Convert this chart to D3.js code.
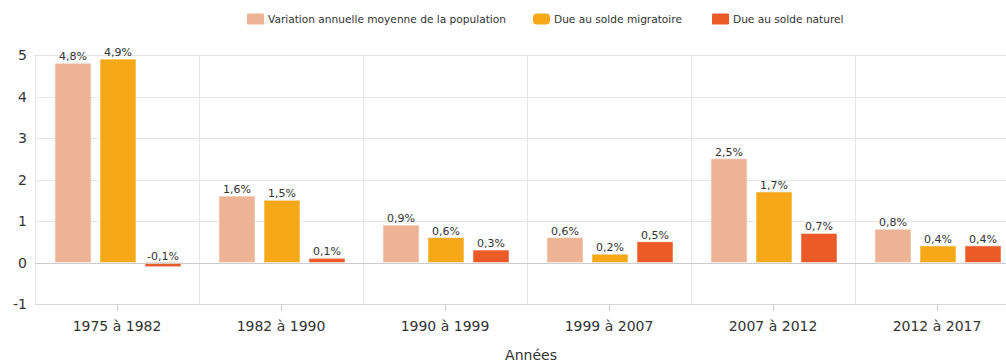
<!DOCTYPE html>
<html>
<head>
<meta charset="utf-8">
<script src="https://cdn.jsdelivr.net/npm/d3@7"></script>
<style>
  html, body { margin: 0; padding: 0; background: #fff; }
  svg { display: block; font-family: "DejaVu Sans", sans-serif; }
</style>
</head>
<body>
<svg id="chart" width="1006" height="363"></svg>
<script>
// Périodes intercensitaires
const categories = ["1975 à 1982", "1982 à 1990", "1990 à 1999", "1999 à 2007", "2007 à 2012", "2012 à 2017"];
// Variation annuelle moyenne (%) et ses composantes
const variationTotale = [4.8, 1.6, 0.9, 0.6, 2.5, 0.8];
const soldeMigratoire = [4.9, 1.5, 0.6, 0.2, 1.7, 0.4];
const soldeNaturel = [-0.1, 0.1, 0.3, 0.5, 0.7, 0.4];
const seriesNames = ["Variation annuelle moyenne de la population", "Due au solde migratoire", "Due au solde naturel"];
const yTicks = [-1, 0, 1, 2, 3, 4, 5];

const colors = ["#EEB294", "#F6A818", "#EC5B27"];
const seriesValues = [variationTotale, soldeMigratoire, soldeNaturel];

const svg = d3.select("#chart");
const plotLeft = 35, plotTop = 55, plotBottom = 304;
const bandWidth = 164;
const plotRight = plotLeft + bandWidth * categories.length;

const x = d3.scaleBand().domain(categories).range([plotLeft, plotRight]).paddingInner(0).paddingOuter(0);
const x1 = d3.scaleBand().domain(d3.range(3)).range([20, bandWidth - 18]).paddingInner(0.2);
const y = d3.scaleLinear().domain([-1, 5]).range([plotBottom, plotTop]);

// Horizontal gridlines
svg.append("g").selectAll("line").data(yTicks.filter(d => d !== 0 && d !== -1)).join("line")
  .attr("x1", plotLeft).attr("x2", 1006)
  .attr("y1", d => Math.round(y(d)) + 0.5).attr("y2", d => Math.round(y(d)) + 0.5)
  .attr("stroke", "#e6e6e6").attr("stroke-width", 1);

// Vertical separators between periods
svg.append("g").selectAll("line").data(d3.range(categories.length + 1)).join("line")
  .attr("x1", i => plotLeft + i * bandWidth + 0.5).attr("x2", i => plotLeft + i * bandWidth + 0.5)
  .attr("y1", plotTop).attr("y2", plotBottom)
  .attr("stroke", "#e6e6e6").attr("stroke-width", 1);

// Bottom axis line
svg.append("line").attr("x1", plotLeft).attr("x2", 1006)
  .attr("y1", Math.round(y(-1)) + 0.5).attr("y2", Math.round(y(-1)) + 0.5)
  .attr("stroke", "#d8d8d8");

// Y axis labels
svg.append("g").selectAll("text").data(yTicks).join("text")
  .attr("x", 27).attr("y", d => y(d) + 5)
  .attr("text-anchor", "end")
  .attr("font-size", 14).attr("fill", "#333")
  .text(d => d);

// Bars
const groups = svg.append("g").selectAll("g").data(categories).join("g")
  .attr("transform", d => `translate(${x(d)},0)`);

const fmt = v => d3.format(".1f")(v).replace("−", "-").replace(".", ",") + "%";

groups.each(function(cat, ci) {
  const g = d3.select(this);
  seriesValues.forEach((vals, si) => {
    const v = vals[ci];
    g.append("rect")
      .attr("x", x1(si))
      .attr("width", x1.bandwidth())
      .attr("y", y(Math.max(0, v)))
      .attr("height", Math.abs(y(v) - y(0)))
      .attr("fill", colors[si])
      .attr("stroke", "#fff").attr("stroke-opacity", 0.5).attr("stroke-width", 1);
    g.append("text")
      .attr("x", x1(si) + x1.bandwidth() / 2)
      .attr("y", y(Math.max(0, v)) - 3)
      .attr("text-anchor", "middle")
      .attr("font-size", 11).attr("fill", "#333")
      .text(fmt(v));
  });
});

// Zero line
svg.append("line").attr("x1", plotLeft).attr("x2", 1006)
  .attr("y1", Math.round(y(0)) + 0.5).attr("y2", Math.round(y(0)) + 0.5)
  .attr("stroke", "#cccccc");

// X axis ticks and labels
const xg = svg.append("g");
xg.selectAll("line").data(categories).join("line")
  .attr("x1", d => Math.round(x(d) + bandWidth / 2) + 0.5)
  .attr("x2", d => Math.round(x(d) + bandWidth / 2) + 0.5)
  .attr("y1", plotBottom + 1).attr("y2", plotBottom + 7)
  .attr("stroke", "#ccc");
xg.selectAll("text").data(categories).join("text")
  .attr("x", d => x(d) + bandWidth / 2)
  .attr("y", 331)
  .attr("text-anchor", "middle")
  .attr("font-size", 14).attr("fill", "#333")
  .text(d => d);

svg.append("text").attr("x", 531).attr("y", 360)
  .attr("text-anchor", "middle").attr("font-size", 14).attr("fill", "#333")
  .text("Années");

// Legend
const legendX = [247, 533, 712];
const legend = svg.append("g").selectAll("g").data(seriesNames).join("g")
  .attr("transform", (d, i) => `translate(${legendX[i]},13.5)`);
legend.append("rect").attr("width", 17).attr("height", 11).attr("rx", (d, i) => i === 1 ? 4 : 1)
  .attr("fill", (d, i) => colors[i]);
legend.append("text").attr("x", 21).attr("y", 9.5)
  .attr("font-size", 10.6).attr("fill", "#333")
  .text(d => d);
</script>
</body>
</html>
